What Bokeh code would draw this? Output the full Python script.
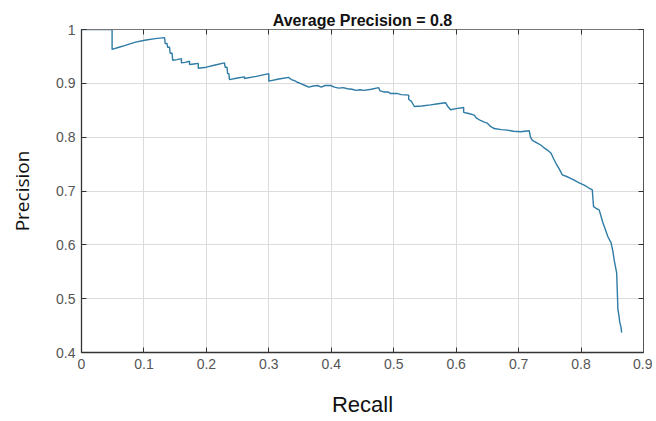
from bokeh.plotting import figure
from bokeh.models import Range1d, LinearAxis, FixedTicker
from bokeh.embed import file_html
from bokeh.resources import INLINE

# ---- data ----
recall = [0.000, 0.049, 0.049, 0.060, 0.069, 0.085, 0.101, 0.118, 0.133, 0.134,
          0.137, 0.138, 0.141, 0.142, 0.145, 0.146, 0.153, 0.160, 0.160, 0.166,
          0.173, 0.173, 0.180, 0.187, 0.187, 0.200, 0.214, 0.229, 0.230, 0.233,
          0.234, 0.236, 0.237, 0.250, 0.261, 0.261, 0.280, 0.300, 0.300, 0.316,
          0.332, 0.336, 0.341, 0.346, 0.352, 0.358, 0.364, 0.371, 0.378, 0.384,
          0.390, 0.399, 0.405, 0.412, 0.419, 0.426, 0.433, 0.440, 0.446, 0.452,
          0.464, 0.476, 0.478, 0.484, 0.491, 0.495, 0.506, 0.512, 0.524, 0.524,
          0.528, 0.530, 0.533, 0.545, 0.559, 0.571, 0.583, 0.586, 0.591, 0.600,
          0.612, 0.612, 0.620, 0.629, 0.632, 0.639, 0.645, 0.650, 0.655, 0.661,
          0.672, 0.682, 0.692, 0.703, 0.710, 0.717, 0.719, 0.722, 0.730, 0.736,
          0.741, 0.746, 0.752, 0.756, 0.760, 0.765, 0.770, 0.779, 0.789, 0.797,
          0.805, 0.812, 0.818, 0.819, 0.820, 0.825, 0.829, 0.832, 0.835, 0.839,
          0.843, 0.848, 0.851, 0.853, 0.855, 0.857, 0.858, 0.859, 0.861, 0.862,
          0.864, 0.865]
precision = [1.000, 1.000, 0.963, 0.967, 0.970, 0.976, 0.980, 0.983, 0.985, 0.974,
             0.974, 0.967, 0.967, 0.956, 0.956, 0.943, 0.944, 0.946, 0.938, 0.939,
             0.941, 0.935, 0.936, 0.937, 0.928, 0.930, 0.934, 0.938, 0.930, 0.930,
             0.918, 0.918, 0.907, 0.910, 0.912, 0.909, 0.913, 0.918, 0.904, 0.908,
             0.911, 0.907, 0.905, 0.902, 0.899, 0.896, 0.893, 0.895, 0.896, 0.893,
             0.896, 0.896, 0.893, 0.891, 0.892, 0.890, 0.889, 0.887, 0.888, 0.887,
             0.889, 0.892, 0.886, 0.884, 0.884, 0.881, 0.881, 0.879, 0.878, 0.870,
             0.867, 0.863, 0.857, 0.858, 0.860, 0.862, 0.864, 0.858, 0.851, 0.853,
             0.855, 0.846, 0.844, 0.841, 0.836, 0.831, 0.828, 0.826, 0.820, 0.816,
             0.814, 0.813, 0.811, 0.810, 0.811, 0.812, 0.800, 0.794, 0.789, 0.785,
             0.780, 0.776, 0.770, 0.760, 0.751, 0.741, 0.730, 0.726, 0.720, 0.715,
             0.711, 0.706, 0.702, 0.686, 0.671, 0.667, 0.665, 0.653, 0.641, 0.628,
             0.615, 0.604, 0.588, 0.572, 0.560, 0.548, 0.515, 0.480, 0.466, 0.456,
             0.447, 0.437]

x_ticks = [0, 0.1, 0.2, 0.3, 0.4, 0.5, 0.6, 0.7, 0.8, 0.9]
x_tick_labels = ["0", "0.1", "0.2", "0.3", "0.4", "0.5", "0.6", "0.7", "0.8", "0.9"]
y_ticks = [0.4, 0.5, 0.6, 0.7, 0.8, 0.9, 1]
y_tick_labels = ["0.4", "0.5", "0.6", "0.7", "0.8", "0.9", "1"]

title_text = "Average Precision = 0.8"
x_label = "Recall"
y_label = "Precision"

# ---- figure ----
p = figure(width=652, height=419, output_backend="svg", toolbar_location=None,
           x_range=Range1d(0, 0.9), y_range=Range1d(0.4, 1.0),
           min_border_left=81, min_border_right=9, min_border_top=29,
           min_border_bottom=66, title=title_text)

p.title.align = "center"
p.title.text_font = "Liberation Sans"
p.title.text_font_size = "16px"
p.title.text_font_style = "bold"
p.title.text_color = "#111111"
p.title.standoff = 2
p.title.offset = 0

p.background_fill_color = "white"
p.border_fill_color = "white"
p.outline_line_color = "#555555"
p.outline_line_width = 1

for ax, ticks, labels in ((p.xaxis[0], x_ticks, x_tick_labels),
                          (p.yaxis[0], y_ticks, y_tick_labels)):
    ax.ticker = FixedTicker(ticks=ticks)
    ax.major_label_overrides = dict(zip(ticks, labels))
    ax.major_tick_in = 5
    ax.major_tick_out = 0
    ax.minor_tick_line_color = None
    ax.major_tick_line_color = "#333333"
    ax.axis_line_color = "#333333"
    ax.axis_line_width = 1.3
    ax.major_label_text_font = "Liberation Sans"
    ax.major_label_text_font_size = "14px"
    ax.major_label_text_color = "#555555"
    ax.major_label_standoff = 6

p.xaxis.axis_label = x_label
p.xaxis.axis_label_text_font = "Liberation Sans"
p.xaxis.axis_label_text_font_size = "22px"
p.xaxis.axis_label_text_font_style = "normal"
p.xaxis.axis_label_text_color = "#111111"
p.xaxis.axis_label_standoff = 20

p.yaxis.axis_label = y_label
p.yaxis.axis_label_text_font = "Open Sans"
p.yaxis.axis_label_text_font_size = "19px"
p.yaxis.axis_label_text_font_style = "normal"
p.yaxis.axis_label_text_color = "#111111"
p.yaxis.axis_label_standoff = 18

# top and right axes: inward ticks only
top = LinearAxis(ticker=FixedTicker(ticks=x_ticks), major_tick_in=5, major_tick_out=0,
                 minor_tick_line_color=None, major_label_text_alpha=0,
                 major_label_text_font_size="1px", major_label_standoff=0,
                 axis_line_color="#777777", major_tick_line_color="#333333")
right = LinearAxis(ticker=FixedTicker(ticks=y_ticks), major_tick_in=5, major_tick_out=0,
                   minor_tick_line_color=None, major_label_text_alpha=0,
                   major_label_text_font_size="1px", major_label_standoff=0,
                   axis_line_color="#555555", major_tick_line_color="#333333")
p.add_layout(top, "above")
p.add_layout(right, "right")

p.xgrid.ticker = FixedTicker(ticks=x_ticks)
p.ygrid.ticker = FixedTicker(ticks=y_ticks)
p.grid.grid_line_color = "#dcdcdc"
p.grid.grid_line_width = 1

p.line(recall, precision, line_color="#2e7ba6", line_width=1.4)

open("out.html", "w").write(file_html(p, INLINE))
